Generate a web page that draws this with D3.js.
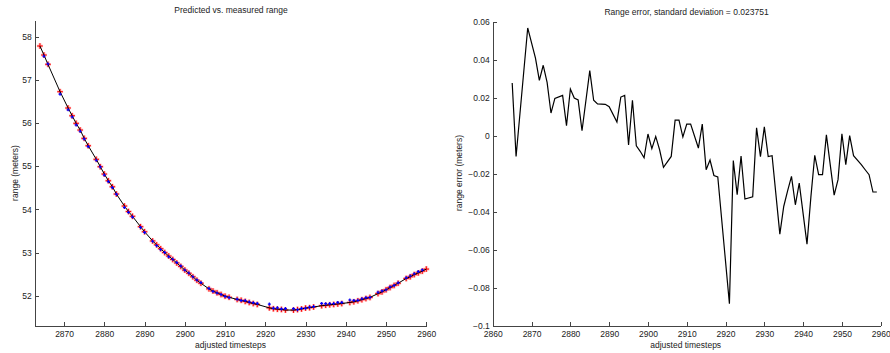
<!DOCTYPE html>
<html>
<head>
<meta charset="utf-8">
<script src="https://cdn.jsdelivr.net/npm/d3@7"></script>
<style>
  body { margin: 0; background: #fff; }
  svg { display: block; font-family: "Liberation Sans", Arial, Helvetica, sans-serif; }
  .axis path, .axis line { stroke: #444; shape-rendering: crispEdges; }
  .axis text { fill: #222; font-size: 8.5px; }
  .lbl { fill: #222; font-size: 8.5px; }
</style>
</head>
<body>
<svg id="chart" width="890" height="353"></svg>
<script>
// Adjusted timesteps of each range sample
const timesteps = [
  2864, 2865, 2866, 2869, 2871, 2872, 2873, 2874, 2875, 2876,
  2878, 2879, 2880, 2881, 2882, 2883, 2885, 2886, 2887, 2889,
  2890, 2892, 2893, 2894, 2895, 2896, 2897, 2898, 2899, 2900,
  2901, 2902, 2903, 2904, 2906, 2907, 2908, 2909, 2910, 2911,
  2913, 2914, 2915, 2916, 2917, 2918, 2921, 2922, 2923, 2924,
  2925, 2927, 2928, 2929, 2930, 2931, 2932, 2934, 2935, 2936,
  2937, 2938, 2939, 2941, 2942, 2943, 2944, 2945, 2946, 2948,
  2949, 2950, 2951, 2952, 2953, 2955, 2956, 2957, 2958, 2959,
  2960
];

// Measured range (meters)
const measuredRange = [
  57.784, 57.575, 57.359, 56.726, 56.348, 56.170, 55.993, 55.838, 55.645, 55.475,
  55.159, 54.989, 54.819, 54.664, 54.525, 54.356, 54.078, 53.950, 53.840, 53.600,
  53.483, 53.270, 53.180, 53.090, 53.000, 52.920, 52.840, 52.760, 52.680, 52.595,
  52.520, 52.440, 52.360, 52.290, 52.160, 52.110, 52.070, 52.030, 51.990, 51.965,
  51.915, 51.895, 51.870, 51.845, 51.820, 51.800, 51.720, 51.700, 51.690, 51.684,
  51.670, 51.668, 51.680, 51.695, 51.715, 51.725, 51.740, 51.770, 51.780, 51.790,
  51.800, 51.810, 51.820, 51.845, 51.860, 51.885, 51.910, 51.935, 51.962, 52.050,
  52.090, 52.140, 52.190, 52.240, 52.290, 52.400, 52.440, 52.490, 52.530, 52.570,
  52.618
];

// Range error = measured - predicted (meters); null where no prediction exists
const rangeError = [
  null,    0.0277, -0.0109,  0.0566,  0.0408,  0.0291,  0.0370,  0.0280,  0.0119,  0.0196,
  0.0212,  0.0053,  0.0245,  0.0198,  0.0188,  0.0026,  0.0342,  0.0186,  0.0167,  0.0165,
  0.0152,  0.0072,  0.0203,  0.0212, -0.0049,  0.0186, -0.0053, -0.0082, -0.0116,  0.0009,
 -0.0068, -0.0004, -0.0074, -0.0166, -0.0109,  0.0082,  0.0082, -0.0007,  0.0061,  0.0061,
 -0.0065,  0.0061, -0.0179, -0.0128, -0.0209, -0.0217, -0.0883, -0.0131, -0.0310, -0.0107,
 -0.0333, -0.0321,  0.0041, -0.0110,  0.0046, -0.0110, -0.0105, -0.0517, -0.0372, -0.0290,
 -0.0214, -0.0363, -0.0249, -0.0570, -0.0323, -0.0103, -0.0205, -0.0205,  0.0004, -0.0312,
 -0.0231,  0.0010, -0.0152,  0.0000, -0.0105, -0.0152, -0.0179, -0.0205, -0.0296, -0.0296,
  null
];

// Tick values
const rangeTicksX = [2870, 2880, 2890, 2900, 2910, 2920, 2930, 2940, 2950, 2960];
const rangeTicksY = [52, 53, 54, 55, 56, 57, 58];
const errorTicksX = [2860, 2870, 2880, 2890, 2900, 2910, 2920, 2930, 2940, 2950, 2960];
const errorTicksY = [-0.1, -0.08, -0.06, -0.04, -0.02, 0, 0.02, 0.04, 0.06];

const stdDev = "0.023751";

const samples = timesteps.map((t, i) => ({
  t,
  measured: measuredRange[i],
  error: rangeError[i],
  predicted: rangeError[i] == null ? null : measuredRange[i] - rangeError[i]
}));
const predictedSamples = samples.filter(d => d.predicted != null);

const svg = d3.select("#chart");

function plusPath(size) {
  const h = size / 2;
  return `M${-h},0H${h}M0,${-h}V${h}`;
}

// ---------- Left panel: predicted vs. measured range ----------
{
  const x = d3.scaleLinear().domain([2862.7, 2960]).range([34.7, 426.3]);
  const y = d3.scaleLinear().domain([51.3, 58.37]).range([326, 20.7]);
  const g = svg.append("g");

  g.append("g").attr("class", "axis")
    .attr("transform", "translate(0,326)")
    .call(d3.axisBottom(x).tickValues(rangeTicksX).tickFormat(d3.format("d"))
      .tickSizeInner(-4).tickSizeOuter(0).tickPadding(5));
  g.append("g").attr("class", "axis")
    .attr("transform", "translate(34.7,0)")
    .call(d3.axisLeft(y).tickValues(rangeTicksY).tickFormat(d3.format("d"))
      .tickSizeInner(-4).tickSizeOuter(0).tickPadding(3));

  // soft halo of the measured markers
  g.append("g").selectAll("path").data(samples).join("path")
    .attr("transform", d => `translate(${x(d.t)},${y(d.measured)})`)
    .attr("d", plusPath(6))
    .attr("stroke", "#ff9a9a").attr("stroke-width", 2.6).attr("fill", "none")
    .attr("opacity", 0.75);
  // measured markers
  g.append("g").selectAll("path").data(samples).join("path")
    .attr("transform", d => `translate(${x(d.t)},${y(d.measured)})`)
    .attr("d", plusPath(5.5))
    .attr("stroke", "#f00").attr("stroke-width", 1).attr("fill", "none");

  g.append("path").datum(samples)
    .attr("d", d3.line().x(d => x(d.t)).y(d => y(d.measured)))
    .attr("fill", "none").attr("stroke", "#000").attr("stroke-width", 1);

  // predicted markers
  g.append("g").selectAll("path").data(predictedSamples).join("path")
    .attr("transform", d => `translate(${x(d.t)},${y(d.predicted)})`)
    .attr("d", plusPath(3))
    .attr("stroke", "#00f").attr("stroke-width", 1.2).attr("fill", "none");

  g.append("text").attr("class", "lbl").attr("x", 231).attr("y", 13)
    .attr("text-anchor", "middle").text("Predicted vs. measured range");
  g.append("text").attr("class", "lbl").attr("x", 230.5).attr("y", 348)
    .attr("text-anchor", "middle").text("adjusted timesteps");
  g.append("text").attr("class", "lbl")
    .attr("transform", "translate(18,173) rotate(-90)")
    .attr("text-anchor", "middle").text("range (meters)");
}

// ---------- Right panel: range error ----------
{
  const x = d3.scaleLinear().domain([2860, 2960]).range([492.8, 880.7]);
  const y = d3.scaleLinear().domain([-0.1, 0.06]).range([326, 21.5]);
  const g = svg.append("g");

  g.append("g").attr("class", "axis")
    .attr("transform", "translate(0,326)")
    .call(d3.axisBottom(x).tickValues(errorTicksX).tickFormat(d3.format("d"))
      .tickSizeInner(-4).tickSizeOuter(0).tickPadding(5));
  g.append("g").attr("class", "axis")
    .attr("transform", "translate(492.8,0)")
    .call(d3.axisLeft(y).tickValues(errorTicksY)
      .tickFormat(d => d3.format("~g")(+d.toFixed(2)))
      .tickSizeInner(-4).tickSizeOuter(0).tickPadding(3));

  g.append("path").datum(predictedSamples)
    .attr("d", d3.line().x(d => x(d.t)).y(d => y(d.error)))
    .attr("fill", "none").attr("stroke", "#000").attr("stroke-width", 1.2)
    .attr("stroke-linejoin", "miter");

  g.append("text").attr("class", "lbl").attr("x", 686.5).attr("y", 15)
    .attr("text-anchor", "middle").text(`Range error, standard deviation = ${stdDev}`);
  g.append("text").attr("class", "lbl").attr("x", 685.7).attr("y", 348)
    .attr("text-anchor", "middle").text("adjusted timesteps");
  g.append("text").attr("class", "lbl")
    .attr("transform", "translate(462,173) rotate(-90)")
    .attr("text-anchor", "middle").text("range error (meters)");
}
</script>
</body>
</html>
